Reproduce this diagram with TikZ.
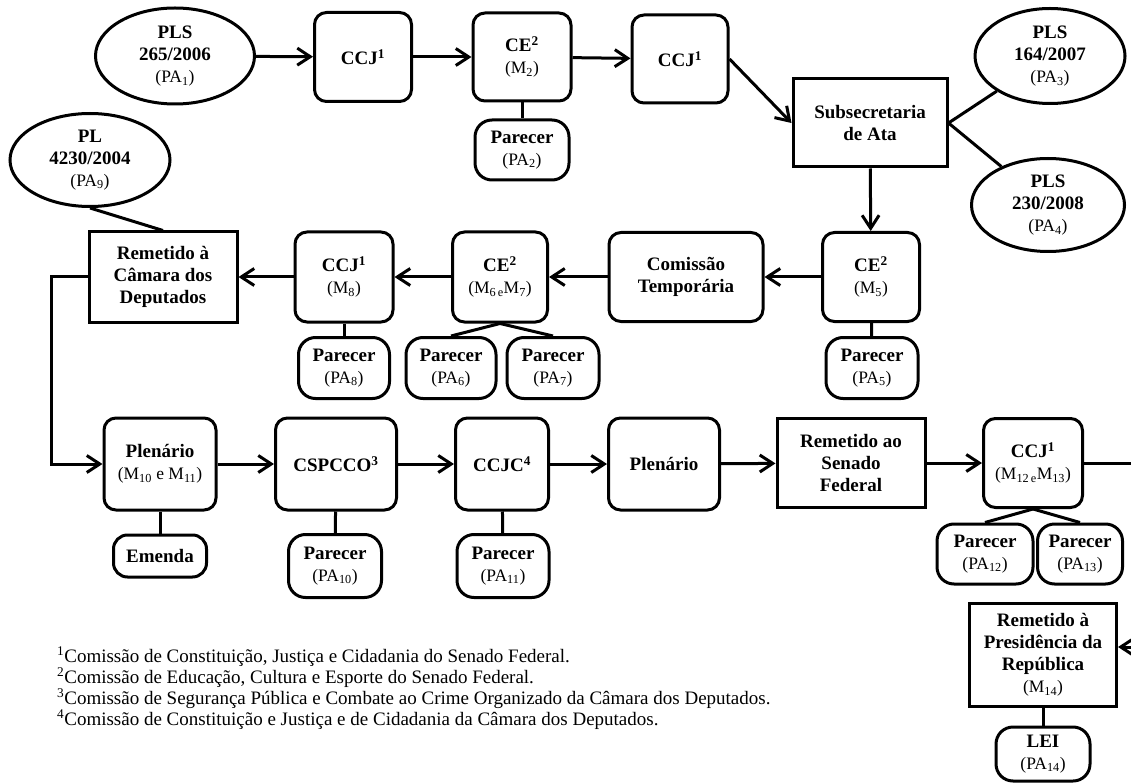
\documentclass[tikz,border=0pt]{standalone}
\usepackage{fontspec}
\setmainfont{Liberation Serif}
\usetikzlibrary{shapes.geometric,arrows.meta}

\newcommand{\mref}[1]{{\fontsize{17.5}{20}\selectfont\mdseries(#1)}}

\begin{document}
\begin{tikzpicture}[x=1pt,y=-1pt,
	every node/.style={font=\bfseries\fontsize{19}{22}\selectfont,align=center,inner sep=0pt},
	rbox/.style={draw,line width=3pt,rounded corners=12pt},
	sbox/.style={draw,line width=3pt},
	parecer/.style={draw,line width=3pt,rounded corners=17pt},
	proj/.style={draw,ellipse,line width=3pt},
	flow/.style={line width=3pt,-{Straight Barb[length=13pt,width=17pt]}},
	link/.style={line width=3pt}]
		\useasboundingbox (0,0) rectangle (1131,783);
		%\draw[step=50,very thin,color=gray] (0,0) grid (1131,783);
		% linha 1
		\node[proj,minimum width=159pt,minimum height=96pt] (pls265) at (175,56) {PLS\\265/2006\\\mref{PA\textsubscript{1}}};
		\node[rbox,minimum width=97pt,minimum height=89pt] (ccja) at (363,57) {CCJ\textsuperscript{1}};
		\node[rbox,minimum width=98pt,minimum height=88pt] (cea) at (522,57) {CE\textsuperscript{2}\\\mref{M\textsubscript{2}}};
		\node[parecer,minimum width=94pt,minimum height=60pt] (para) at (522,150) {Parecer\\\mref{PA\textsubscript{2}}};
		\node[rbox,minimum width=96pt,minimum height=88pt] (ccjb) at (680,59) {CCJ\textsuperscript{1}};
		\node[sbox,minimum width=154pt,minimum height=88pt] (subata) at (870,123) {Subsecretaria\\de Ata};
		\node[proj,minimum width=150pt,minimum height=95pt] (pls164) at (1050,56) {PLS\\164/2007\\\mref{PA\textsubscript{3}}};
		\node[proj,minimum width=153pt,minimum height=93pt] (pls230) at (1048,205) {PLS\\230/2008\\\mref{PA\textsubscript{4}}};
		\node[proj,minimum width=160pt,minimum height=93pt] (pl4230) at (90,160) {PL\\4230/2004\\\mref{PA\textsubscript{9}}};
		% linha 2
		\node[sbox,minimum width=148pt,minimum height=90pt] (remcam) at (163,277) {Remetido à\\Câmara dos\\Deputados};
		\node[rbox,minimum width=98pt,minimum height=90pt] (ccjc) at (344,277) {CCJ\textsuperscript{1}\\\mref{M\textsubscript{8}}};
		\node[rbox,minimum width=95pt,minimum height=90pt] (ceb) at (500,277) {CE\textsuperscript{2}\\\mref{M\textsubscript{6\,e}M\textsubscript{7}}};
		\node[rbox,minimum width=154pt,minimum height=89pt] (comtemp) at (686,277) {Comissão\\Temporária};
		\node[rbox,minimum width=97pt,minimum height=89pt] (cec) at (871,277) {CE\textsuperscript{2}\\\mref{M\textsubscript{5}}};
		\node[parecer,minimum width=91pt,minimum height=61pt] (par8) at (344,368) {Parecer\\\mref{PA\textsubscript{8}}};
		\node[parecer,minimum width=90pt,minimum height=61pt] (par6) at (451,368) {Parecer\\\mref{PA\textsubscript{6}}};
		\node[parecer,minimum width=92pt,minimum height=61pt] (par7) at (553,368) {Parecer\\\mref{PA\textsubscript{7}}};
		\node[parecer,minimum width=92pt,minimum height=61pt] (par5) at (872,368) {Parecer\\\mref{PA\textsubscript{5}}};
		% linha 3
		\node[rbox,minimum width=112pt,minimum height=92pt] (plena) at (160,464) {Plenário\\\mref{M\textsubscript{10} e M\textsubscript{11}}};
		\node[parecer,minimum width=93pt,minimum height=42pt,rounded corners=14pt] (emenda) at (160,556) {Emenda};
		\node[rbox,minimum width=121pt,minimum height=92pt] (cspcco) at (336,464) {CSPCCO\textsuperscript{3}};
		\node[parecer,minimum width=93pt,minimum height=63pt] (par10) at (335,566) {Parecer\\\mref{PA\textsubscript{10}}};
		\node[rbox,minimum width=93pt,minimum height=92pt] (ccjc4) at (502,464) {CCJC\textsuperscript{4}};
		\node[parecer,minimum width=92pt,minimum height=63pt] (par11) at (503,566) {Parecer\\\mref{PA\textsubscript{11}}};
		\node[rbox,minimum width=111pt,minimum height=92pt] (plenb) at (664,464) {Plenário};
		\node[sbox,minimum width=148pt,minimum height=89pt] (remsen) at (851,463) {Remetido ao\\Senado\\Federal};
		\node[rbox,minimum width=99pt,minimum height=89pt] (ccjd) at (1033,463) {CCJ\textsuperscript{1}\\\mref{M\textsubscript{12\,e}M\textsubscript{13}}};
		\node[parecer,minimum width=96pt,minimum height=60pt] (par12) at (985,554) {Parecer\\\mref{PA\textsubscript{12}}};
		\node[parecer,minimum width=85pt,minimum height=60pt] (par13) at (1080,554) {Parecer\\\mref{PA\textsubscript{13}}};
		\node[sbox,minimum width=147pt,minimum height=103pt] (rempres) at (1043,655) {Remetido à\\Presidência da\\República\\\mref{M\textsubscript{14}}};
		\node[parecer,minimum width=94pt,minimum height=54pt] (lei) at (1043,754) {LEI\\\mref{PA\textsubscript{14}}};
		\coordinate (saida) at (1131,463);
		\coordinate (entrada) at (1131,647);
		% ligacoes
		\draw[flow] (pls265) -- (ccja);
		\draw[flow] (ccja) -- (cea);
		\draw[flow] (cea) -- (ccjb);
		\draw[flow] (ccjb.east) -- (subata.west);
		\draw[link] (cea) -- (para);
		\draw[link] (subata.east) -- (pls164);
		\draw[link] (subata.east) -- (pls230);
		\draw[flow] (subata) -- (cec);
		\draw[flow] (cec) -- (comtemp);
		\draw[flow] (comtemp) -- (ceb);
		\draw[flow] (ceb) -- (ccjc);
		\draw[flow] (ccjc) -- (remcam);
		\draw[link] (pl4230.south) -- (remcam.north);
		\draw[link] (cec) -- (par5);
		\draw[link] (ccjc) -- (par8);
		\draw[link] (ceb.south) -- (par6.north);
		\draw[link] (ceb.south) -- (par7.north);
		\draw[flow] (remcam.west) -- ++(-36,0) |- (plena.west);
		\draw[flow] (plena) -- (cspcco);
		\draw[flow] (cspcco) -- (ccjc4);
		\draw[flow] (ccjc4) -- (plenb);
		\draw[flow] (plenb) -- (remsen);
		\draw[flow] (remsen) -- (ccjd);
		\draw[link] (plena) -- (emenda);
		\draw[link] (cspcco) -- (par10);
		\draw[link] (ccjc4) -- (par11);
		\draw[link] (ccjd.south) -- (par12.north);
		\draw[link] (ccjd.south) -- (par13.north);
		\draw[link] (ccjd.east) -- (saida);
		\draw[flow] (entrada) -- (entrada -| rempres.east);
		\draw[link] (rempres) -- (lei);
		% notas
		\node[anchor=north west,align=left,font=\fontsize{19}{21}\selectfont] (notas) at (57,647) {\textsuperscript{1}Comissão de Constituição, Justiça e Cidadania do Senado Federal.\\\textsuperscript{2}Comissão de Educação, Cultura e Esporte do Senado Federal.\\\textsuperscript{3}Comissão de Segurança Pública e Combate ao Crime Organizado da Câmara dos Deputados.\\\textsuperscript{4}Comissão de Constituição e Justiça e de Cidadania da Câmara dos Deputados.};
\end{tikzpicture}
\end{document}
